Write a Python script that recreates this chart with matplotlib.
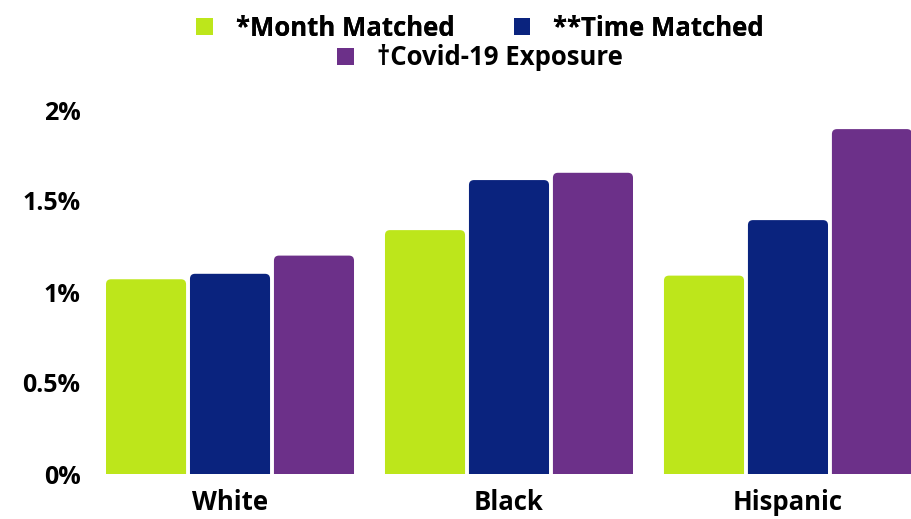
import matplotlib
matplotlib.use("Agg")
import matplotlib.pyplot as plt
from matplotlib.patches import FancyBboxPatch, Patch
import numpy as np

categories = ["White", "Black", "Hispanic"]
series_names = ["*Month Matched", "**Time Matched", "\u2020Covid-19 Exposure"]
month_matched = [1.07, 1.34, 1.09]
time_matched = [1.10, 1.615, 1.395]
covid_exposure = [1.20, 1.655, 1.895]
yticks = [0, 0.5, 1, 1.5, 2]
ytick_labels = ["0%", "0.5%", "1%", "1.5%", "2%"]

colors = ["#BDE61B", "#0A237E", "#6C3089"]
FONT = "Open Sans"

fig = plt.figure(figsize=(9.11, 5.19), dpi=100)
ax = fig.add_axes([100/911, 45/519, 811/911, 364/519])

x = np.arange(len(categories))
width = 0.287
step = 0.301
allvals = [month_matched, time_matched, covid_exposure]
for i, (vals, c) in enumerate(zip(allvals, colors)):
    bars = ax.bar(x + (i - 1) * step, vals, width=width, color=c)
    for b in bars:
        b.set_visible(False)
        bx, by = b.get_x(), b.get_y()
        w, h = b.get_width(), b.get_height()
        p = FancyBboxPatch((bx, by - 0.05), w, h + 0.05,
                           boxstyle="round,pad=0,rounding_size=0.018",
                           mutation_aspect=279/182,
                           facecolor=c, edgecolor="none")
        ax.add_patch(p)
        p.set_clip_path(ax.patch)

ax.set_xlim(-0.466, 2.441)
ax.set_ylim(0, 2.0)
ax.set_yticks(yticks)
ax.set_yticklabels(ytick_labels)
ax.set_xticks(x)
ax.set_xticklabels(categories)
for s in ax.spines.values():
    s.set_visible(False)
ax.tick_params(axis="both", length=0)
ax.tick_params(axis="y", pad=14)
ax.tick_params(axis="x", pad=11)
for lab in ax.get_yticklabels():
    lab.set_fontfamily(FONT); lab.set_fontweight("bold"); lab.set_fontsize(18)
for lab in ax.get_xticklabels():
    lab.set_fontfamily(FONT); lab.set_fontweight("bold"); lab.set_fontsize(18.5)

handles = [Patch(facecolor=c) for c in colors]
leg_font = {"family": FONT, "weight": "bold", "size": 18.5}
leg1 = fig.legend(handles[:2], series_names[:2], loc="center", bbox_to_anchor=(0.527, 0.946),
                  ncol=2, frameon=False, prop=leg_font, handlelength=0.65, handleheight=0.65,
                  columnspacing=2.3, handletextpad=0.9)
leg2 = fig.legend(handles[2:], series_names[2:], loc="center", bbox_to_anchor=(0.527, 0.889),
                  ncol=1, frameon=False, prop=leg_font, handlelength=0.65, handleheight=0.65,
                  handletextpad=0.9)
fig.add_artist(leg1)

fig.savefig("out.png", dpi=100, facecolor="white")
